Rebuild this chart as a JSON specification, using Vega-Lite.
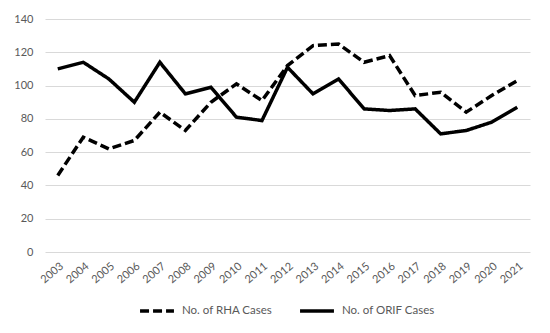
{
  "$schema": "https://vega.github.io/schema/vega-lite/v6.json",
  "width": 485,
  "height": 233,
  "autosize": {"type": "none"},
  "padding": {"left": 45, "top": 19, "right": 20, "bottom": 81},
  "background": "white",
  "config": {
    "font": "Lato",
    "view": {"stroke": null}
  },
  "data": {
    "values": [
      {"year": "2003", "series": "No. of RHA Cases", "value": 46},
      {"year": "2004", "series": "No. of RHA Cases", "value": 69},
      {"year": "2005", "series": "No. of RHA Cases", "value": 62},
      {"year": "2006", "series": "No. of RHA Cases", "value": 67},
      {"year": "2007", "series": "No. of RHA Cases", "value": 84},
      {"year": "2008", "series": "No. of RHA Cases", "value": 73},
      {"year": "2009", "series": "No. of RHA Cases", "value": 90},
      {"year": "2010", "series": "No. of RHA Cases", "value": 101},
      {"year": "2011", "series": "No. of RHA Cases", "value": 91},
      {"year": "2012", "series": "No. of RHA Cases", "value": 112},
      {"year": "2013", "series": "No. of RHA Cases", "value": 124},
      {"year": "2014", "series": "No. of RHA Cases", "value": 125},
      {"year": "2015", "series": "No. of RHA Cases", "value": 114},
      {"year": "2016", "series": "No. of RHA Cases", "value": 118},
      {"year": "2017", "series": "No. of RHA Cases", "value": 94},
      {"year": "2018", "series": "No. of RHA Cases", "value": 96},
      {"year": "2019", "series": "No. of RHA Cases", "value": 84},
      {"year": "2020", "series": "No. of RHA Cases", "value": 94},
      {"year": "2021", "series": "No. of RHA Cases", "value": 103},
      {"year": "2003", "series": "No. of ORIF Cases", "value": 110},
      {"year": "2004", "series": "No. of ORIF Cases", "value": 114},
      {"year": "2005", "series": "No. of ORIF Cases", "value": 104},
      {"year": "2006", "series": "No. of ORIF Cases", "value": 90},
      {"year": "2007", "series": "No. of ORIF Cases", "value": 114},
      {"year": "2008", "series": "No. of ORIF Cases", "value": 95},
      {"year": "2009", "series": "No. of ORIF Cases", "value": 99},
      {"year": "2010", "series": "No. of ORIF Cases", "value": 81},
      {"year": "2011", "series": "No. of ORIF Cases", "value": 79},
      {"year": "2012", "series": "No. of ORIF Cases", "value": 111},
      {"year": "2013", "series": "No. of ORIF Cases", "value": 95},
      {"year": "2014", "series": "No. of ORIF Cases", "value": 104},
      {"year": "2015", "series": "No. of ORIF Cases", "value": 86},
      {"year": "2016", "series": "No. of ORIF Cases", "value": 85},
      {"year": "2017", "series": "No. of ORIF Cases", "value": 86},
      {"year": "2018", "series": "No. of ORIF Cases", "value": 71},
      {"year": "2019", "series": "No. of ORIF Cases", "value": 73},
      {"year": "2020", "series": "No. of ORIF Cases", "value": 78},
      {"year": "2021", "series": "No. of ORIF Cases", "value": 87}
    ]
  },
  "mark": {"type": "line", "strokeWidth": 3.5, "color": "black", "strokeJoin": "miter", "strokeCap": "butt"},
  "encoding": {
    "x": {
      "field": "year",
      "type": "ordinal",
      "scale": {"type": "point", "padding": 0.5},
      "axis": {
        "title": null,
        "labelAngle": -40,
        "labelColor": "#595959",
        "labelFontSize": 11,
        "labelPadding": 8,
        "domain": false,
        "ticks": false,
        "grid": false
      }
    },
    "y": {
      "field": "value",
      "type": "quantitative",
      "scale": {"domain": [0, 140], "nice": false},
      "axis": {
        "title": null,
        "values": [0, 20, 40, 60, 80, 100, 120, 140],
        "labelColor": "#595959",
        "labelFontSize": 11,
        "labelPadding": 12,
        "domain": false,
        "ticks": false,
        "gridColor": "#d9d9d9",
        "gridWidth": 1
      }
    },
    "strokeDash": {
      "field": "series",
      "type": "nominal",
      "scale": {
        "domain": ["No. of RHA Cases", "No. of ORIF Cases"],
        "range": [[9, 4], [1, 0]]
      },
      "legend": {
        "title": null,
        "orient": "none",
        "legendX": 93,
        "legendY": 273,
        "direction": "horizontal",
        "symbolType": "stroke",
        "symbolSize": 1150,
        "symbolStrokeWidth": 3.5,
        "symbolStrokeColor": "black",
        "labelColor": "#595959",
        "labelFontSize": 11.5,
        "labelOffset": 6,
        "columnPadding": 20
      }
    }
  }
}
